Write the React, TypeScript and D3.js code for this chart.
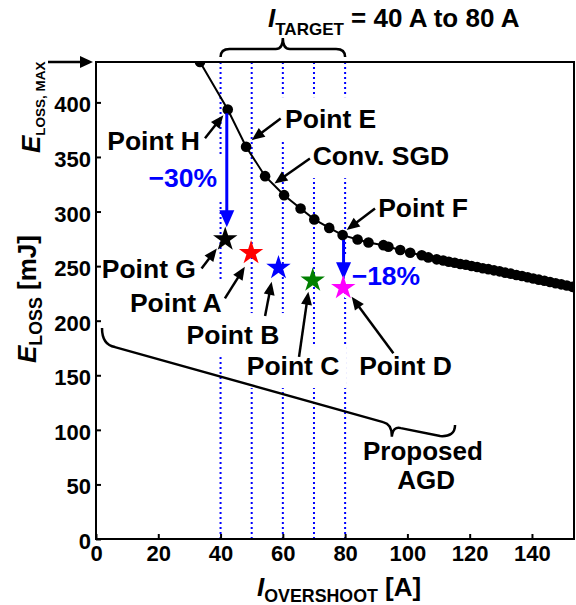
import { useEffect, useRef } from 'react'
import * as d3 from 'd3'

// Conv. SGD sweep (I_OVERSHOOT [A] vs E_LOSS [mJ])
const sgdCurrent = [33.4, 42.3, 48.2, 54.3, 60.4, 65.7, 70.1, 74.9, 79.2, 84.0, 87.5, 92.3, 93.9, 97.7, 100.9, 104.6, 106.7, 109.4, 111.5, 113.3, 115.2, 117.0, 118.8, 120.6, 122.4, 124.2, 126.0, 127.8, 129.6, 131.4, 133.2, 135.0, 136.8, 138.6, 140.4, 142.2, 144.0, 145.8, 147.6, 149.4, 151.2, 153.0]
const sgdLoss = [437, 393.5, 359.3, 332.4, 315.0, 302.8, 292.8, 285.0, 278.4, 274.4, 271.7, 269.2, 267.7, 264.7, 262.2, 260.0, 258.0, 256.2, 255.1, 254.0, 253.1, 252.0, 251.2, 250.1, 249.2, 248.0, 247.2, 246.1, 245.2, 244.0, 243.1, 241.9, 241.0, 239.8, 238.7, 237.6, 236.6, 235.4, 234.3, 233.3, 232.2, 231.0]

// Proposed AGD points G, A, B, C, D
const agdNames = ['G', 'A', 'B', 'C', 'D']
const agdCurrent = [41.5, 49.8, 58.6, 69.6, 79.4]
const agdLoss = [275.5, 263.0, 249.4, 237.8, 231.0]
const agdColors = ['#000000', '#ff0000', '#0000ff', '#008000', '#ff00ff']

const targetCurrent = [40, 50, 60, 70, 80]

// reduction arrows
const reductionLabels = ['\u221230%', '\u221218%']
const reductionCurrent = [42, 79.5]
const reductionFrom = [390, 274]
const reductionTo = [285.7, 238]

const xTicks = [0, 20, 40, 60, 80, 100, 120, 140]
const yTicks = [0, 50, 100, 150, 200, 250, 300, 350, 400]
const xMax = 153.5
const yMax = 437

// callouts: text, anchor point (A, mJ), arrow from -> to (A, mJ)
const callouts: { text: string; x: number; y: number; anchor: string; arrow: number[] }[] = [
  { text: 'Point H', x: 33.4, y: 356.2, anchor: 'end', arrow: [35.0, 367.2, 40.9, 388.3] },
  { text: 'Point E', x: 60.7, y: 376.4, anchor: 'start', arrow: [59.3, 385.3, 50.0, 365.4] },
  { text: 'Conv. SGD', x: 69.6, y: 342.5, anchor: 'start', arrow: [68.7, 348.6, 57.3, 325.7] },
  { text: 'Point F', x: 90.6, y: 294.9, anchor: 'start', arrow: [89.6, 302.8, 80.5, 283.0] },
  { text: 'Point G', x: 32.1, y: 239.0, anchor: 'end', arrow: [33.9, 247.9, 38.8, 266.2] },
  { text: 'Point A', x: 10.9, y: 207.9, anchor: 'start', arrow: [41.4, 220.4, 47.8, 249.4] },
  { text: 'Point B', x: 29.1, y: 178.6, anchor: 'start', arrow: [54.3, 204.2, 56.4, 235.6] },
  { text: 'Point C', x: 48.4, y: 150.2, anchor: 'start', arrow: [65.2, 166.9, 68.2, 226.5] },
  { text: 'Point D', x: 84.5, y: 150.2, anchor: 'start', arrow: [95.5, 170.1, 82.1, 221.9] },
]

const FONT = '"Liberation Sans", Arial, Helvetica, sans-serif'

export default function App() {
  const svgRef = useRef<SVGSVGElement>(null)

  useEffect(() => {
    if (!svgRef.current) return
    const svg = d3.select(svgRef.current)
    svg.selectAll('*').remove()

    const width = 576
    const height = 605
    const margin = { top: 62, right: 2, bottom: 66, left: 96 }
    const x = d3.scaleLinear().domain([0, xMax]).range([margin.left, width - margin.right])
    const y = d3.scaleLinear().domain([0, yMax]).range([height - margin.bottom, margin.top])
    const [x0, x1] = x.range()
    const [y0, y1] = y.range()

    svg.attr('width', width).attr('height', height).attr('font-family', FONT).attr('font-weight', 'bold')

    svg.append('defs').append('clipPath').attr('id', 'plot-clip')
      .append('rect').attr('x', x0).attr('y', y1).attr('width', x1 - x0).attr('height', y0 - y1)

    const arrow = (sel: any, ax: number, ay: number, bx: number, by: number, color: string, lw: number, hl: number, hw: number) => {
      const dx = bx - ax, dy = by - ay
      const len = Math.hypot(dx, dy)
      const ux = dx / len, uy = dy / len
      const hx = bx - ux * hl, hy = by - uy * hl
      sel.append('line')
        .attr('x1', ax).attr('y1', ay).attr('x2', hx + ux).attr('y2', hy + uy)
        .attr('stroke', color).attr('stroke-width', lw)
      sel.append('path')
        .attr('d', `M${bx},${by}L${hx - uy * hw / 2},${hy + ux * hw / 2}L${hx + uy * hw / 2},${hy - ux * hw / 2}Z`)
        .attr('fill', color)
    }

    // target current guides
    const guides = svg.append('g')
    for (const t of targetCurrent) {
      guides.append('line')
        .attr('x1', x(t)).attr('x2', x(t)).attr('y1', y1).attr('y2', y0)
        .attr('stroke', '#0000ff').attr('stroke-width', 2).attr('stroke-dasharray', '2,3')
    }

    const bg = svg.append('g')
    const marks = svg.append('g')
    const labels = svg.append('g')

    // axes
    const xAxis = marks.append('g')
      .attr('transform', `translate(0,${y0})`)
      .call(d3.axisBottom(x).tickValues(xTicks).tickSizeInner(-5).tickSizeOuter(0).tickPadding(6))
    xAxis.select('.domain').remove()
    xAxis.selectAll('line').attr('stroke', '#000').attr('stroke-width', 2)
    xAxis.selectAll('text').attr('fill', '#000').attr('font-size', '22px').attr('font-family', FONT).attr('font-weight', 'bold')

    const yAxis = marks.append('g')
      .attr('transform', `translate(${x0},0)`)
      .call(d3.axisLeft(y).tickValues(yTicks).tickSizeInner(-5).tickSizeOuter(0).tickPadding(5))
    yAxis.select('.domain').remove()
    yAxis.selectAll('line').attr('stroke', '#000').attr('stroke-width', 2)
    yAxis.selectAll('text').attr('fill', '#000').attr('font-size', '22px').attr('font-family', FONT).attr('font-weight', 'bold').attr('dy', '0.43em')

    marks.append('rect')
      .attr('x', x0).attr('y', y1).attr('width', x1 - x0).attr('height', y0 - y1)
      .attr('fill', 'none').attr('stroke', '#000').attr('stroke-width', 2)

    // Conv. SGD curve
    const pts = sgdCurrent.map((c, i) => [c, sgdLoss[i]] as [number, number])
    const curve = marks.append('g').attr('clip-path', 'url(#plot-clip)')
    curve.append('path')
      .datum(pts)
      .attr('fill', 'none').attr('stroke', '#000').attr('stroke-width', 2)
      .attr('d', d3.line<[number, number]>().x((d) => x(d[0])).y((d) => y(d[1])))
    curve.selectAll('circle')
      .data(pts)
      .join('circle')
      .attr('cx', (d) => x(d[0])).attr('cy', (d) => y(d[1])).attr('r', 5.3)
      .attr('fill', '#000')

    // reduction arrows
    reductionCurrent.forEach((c, i) => {
      arrow(marks, x(c), y(reductionFrom[i]), x(c), y(reductionTo[i]), '#0000ff', 3, 17, 15)
    })

    // AGD stars
    const star = d3.symbol().type(d3.symbolStar).size(185)
    agdNames.forEach((_, i) => {
      marks.append('path')
        .attr('transform', `translate(${x(agdCurrent[i])},${y(agdLoss[i]) + 1})`)
        .attr('d', star() as string)
        .attr('fill', agdColors[i])
    })

    // callouts
    const addBg = (t: any) => {
      const b = (t.node() as SVGTextElement).getBBox()
      bg.append('rect').attr('x', b.x - 7).attr('y', b.y - 7).attr('width', b.width + 14).attr('height', b.height + 14).attr('fill', '#fff')
    }
    const addLabel = (txt: string, px: number, py: number, anchor: string, color: string, size: number) => {
      const t = labels.append('text')
        .attr('x', px).attr('y', py).attr('text-anchor', anchor)
        .attr('fill', color).attr('font-size', `${size}px`)
        .text(txt)
      addBg(t)
      return t
    }

    for (const c of callouts) {
      addLabel(c.text, x(c.x), y(c.y), c.anchor, '#000', 26.5)
      arrow(marks, x(c.arrow[0]), y(c.arrow[1]), x(c.arrow[2]), y(c.arrow[3]), '#000', 2.5, 13, 11)
    }
    addLabel(reductionLabels[0], x(38.9), y(322.3), 'end', '#0000ff', 26.5)
    addLabel(reductionLabels[1], x(82.1), y(232.6), 'start', '#0000ff', 26.5)

    const agd = labels.append('text')
      .attr('y', y(72.6)).attr('text-anchor', 'middle').attr('fill', '#000').attr('font-size', '26px')
    agd.append('tspan').attr('x', x(105.0)).text('Proposed')
    agd.append('tspan').attr('x', x(106.0)).attr('dy', 29.5).text('AGD')
    addBg(agd)

    // brace for the proposed AGD points
    const bp = (a: number, b: number) => `${x(a)},${y(b)}`
    marks.append('path')
      .attr('d', `M${bp(1.93, 193.2)}Q${bp(1.93, 177.7)} ${bp(6.1, 175.8)}L${bp(92.2, 107.1)}Q${bp(95.1, 105.3)} ${bp(95.0, 93.7)}Q${bp(95.4, 103.5)} ${bp(97.9, 101.6)}L${bp(110.5, 94.3)}Q${bp(115.3, 93.4)} ${bp(115.3, 104.4)}`)
      .attr('fill', 'none').attr('stroke', '#000').attr('stroke-width', 2.5)

    // I_TARGET brace
    const xa = x(targetCurrent[0])
    const xb = x(targetCurrent[targetCurrent.length - 1])
    const xm = (xa + xb) / 2
    const by = y1 - 13
    marks.append('path')
      .attr('d', `M${xa},${y1 - 5}Q${xa},${by} ${xa + 9},${by}L${xm - 7},${by}Q${xm},${by} ${xm},${by - 11}Q${xm},${by} ${xm + 7},${by}L${xb - 9},${by}Q${xb},${by} ${xb},${y1 - 5}`)
      .attr('fill', 'none').attr('stroke', '#000').attr('stroke-width', 2.5)

    const title = labels.append('text').attr('x', 268).attr('y', 27).attr('font-size', '26px').attr('fill', '#000')
    title.append('tspan').attr('font-style', 'italic').text('I')
    title.append('tspan').attr('font-size', '17px').attr('dy', 8).text('TARGET')
    title.append('tspan').attr('dy', -8).text(' = 40 A to 80 A')

    // E_LOSS,MAX marker
    arrow(marks, x0 - 48, y1, x0 - 3, y1, '#000', 2.5, 13, 12)
    const emax = labels.append('text')
      .attr('transform', `translate(40,${y1 + 91}) rotate(-90)`)
      .attr('font-size', '26px').attr('fill', '#000')
    emax.append('tspan').attr('font-style', 'italic').text('E')
    emax.append('tspan').attr('font-size', '13.5px').attr('dy', 5).text('LOSS, MAX')

    // axis titles
    const xt = labels.append('text').attr('x', 257).attr('y', 596).attr('font-size', '26px').attr('fill', '#000')
    xt.append('tspan').attr('font-style', 'italic').text('I')
    xt.append('tspan').attr('font-size', '17.8px').attr('dy', 6).text('OVERSHOOT')
    xt.append('tspan').attr('dy', -6).text(' [A]')

    const yt = labels.append('text')
      .attr('transform', `translate(36,363) rotate(-90)`)
      .attr('font-size', '26px').attr('fill', '#000')
    yt.append('tspan').attr('font-style', 'italic').text('E')
    yt.append('tspan').attr('font-size', '17.8px').attr('dy', 6).text('LOSS')
    yt.append('tspan').attr('dy', -6).text(' [mJ]')
  }, [])

  return (
    <svg ref={svgRef} style={{ position: 'absolute', left: 0, top: 0, display: 'block' }} />
  )
}
